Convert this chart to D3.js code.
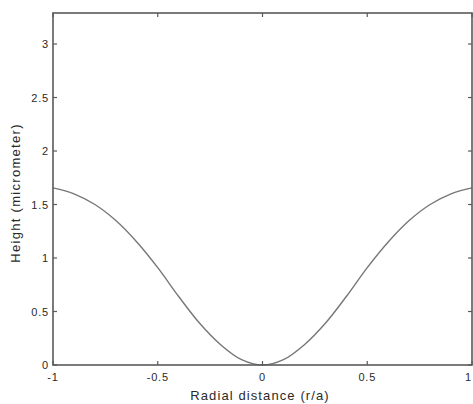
<!DOCTYPE html>
<html><head><meta charset="utf-8">
<script src="https://cdn.jsdelivr.net/npm/d3@7"></script>
<style>
html,body{margin:0;padding:0;background:#fff;}
svg{display:block;}
text{font-family:"Liberation Sans",Arial,sans-serif;fill:#2a2a2a;}
</style></head>
<body>
<svg id="chart" width="473" height="404"></svg>
<script>
// Data
const radial = [-1,-0.9,-0.8,-0.7,-0.6,-0.5,-0.4,-0.3,-0.2,-0.1,0,0.1,0.2,0.3,0.4,0.5,0.6,0.7,0.8,0.9,1];
const height = [1.655,1.60,1.50,1.35,1.15,0.91,0.64,0.39,0.19,0.05,0,0.05,0.19,0.39,0.64,0.91,1.15,1.35,1.50,1.60,1.655];
const xTicks = [-1,-0.5,0,0.5,1];
const xTickLabels = ["-1","-0.5","0","0.5","1"];
const yTicks = [0,0.5,1,1.5,2,2.5,3];
const yTickLabels = ["0","0.5","1","1.5","2","2.5","3"];
const xLabel = "Radial distance (r/a)";
const yLabel = "Height (micrometer)";

const svg = d3.select("#chart");
const L = 53, R = 472, T = 13, B = 365;
const x = d3.scaleLinear().domain([-1,1]).range([L,R]);
const y = d3.scaleLinear().domain([0,3.29]).range([B,T]);

const axisColor = "#5a5a5a";
const tickLen = 4;

// curve
const line = d3.line().x((d,i)=>x(radial[i])).y(d=>y(d)).curve(d3.curveCatmullRom.alpha(0.5));
svg.append("path").datum(height).attr("d",line)
  .attr("fill","none").attr("stroke","#777").attr("stroke-width",1.4);

// box
svg.append("rect").attr("x",L).attr("y",T).attr("width",R-L).attr("height",B-T)
  .attr("fill","none").attr("stroke",axisColor).attr("stroke-width",1.6);

// ticks (inward on all sides)
const g = svg.append("g").attr("stroke",axisColor).attr("stroke-width",1.2);
xTicks.forEach(v=>{
  g.append("line").attr("x1",x(v)).attr("x2",x(v)).attr("y1",B).attr("y2",B-tickLen);
  g.append("line").attr("x1",x(v)).attr("x2",x(v)).attr("y1",T).attr("y2",T+tickLen);
});
yTicks.forEach(v=>{
  g.append("line").attr("y1",y(v)).attr("y2",y(v)).attr("x1",L).attr("x2",L+tickLen);
  g.append("line").attr("y1",y(v)).attr("y2",y(v)).attr("x1",R).attr("x2",R-tickLen);
});

// tick labels
svg.append("g").selectAll("text").data(xTicks).join("text")
  .attr("x",d=>Math.min(x(d), 472)).attr("y",381)
  .attr("text-anchor",(d,i)=> i===xTicks.length-1 ? "end" : "middle")
  .attr("font-size",11).attr("letter-spacing",0.8)
  .text((d,i)=>xTickLabels[i]);
svg.append("g").selectAll("text").data(yTicks).join("text")
  .attr("x",49).attr("y",d=>y(d)+4).attr("text-anchor","end")
  .attr("font-size",11).attr("letter-spacing",0.8)
  .text((d,i)=>yTickLabels[i]);

// axis labels
svg.append("text").attr("x",260).attr("y",400).attr("text-anchor","middle")
  .attr("font-size",13).attr("letter-spacing",1.1).text(xLabel);
svg.append("text").attr("transform",`translate(20,193) rotate(-90)`)
  .attr("text-anchor","middle").attr("font-size",13).attr("letter-spacing",1.3).text(yLabel);
</script>
</body></html>
